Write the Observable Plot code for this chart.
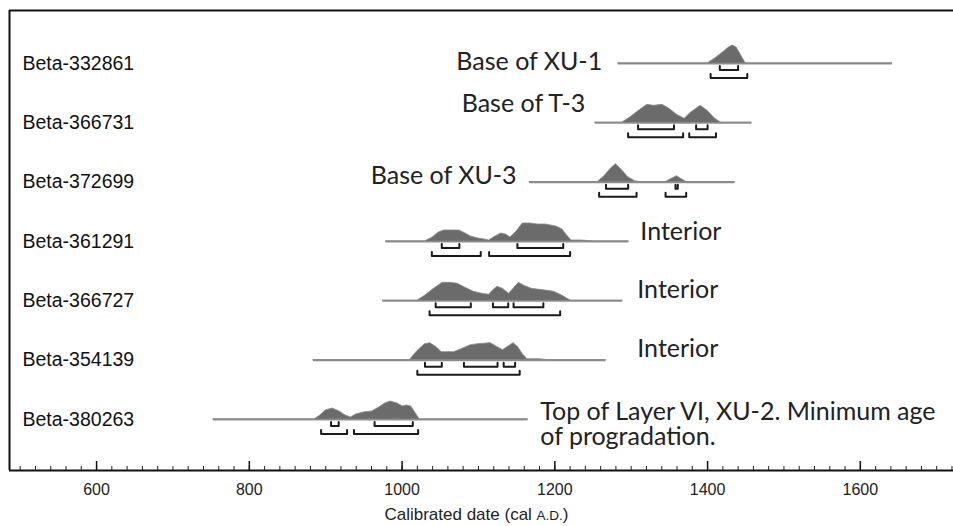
<!DOCTYPE html>
<html>
<head>
<meta charset="utf-8">
<script src="https://cdn.jsdelivr.net/npm/d3@7"></script>
<script src="https://cdn.jsdelivr.net/npm/@observablehq/plot@0.6"></script>
<style>
  html, body { margin: 0; padding: 0; background: #fff; }
  #chart { width: 953px; height: 500px; }
  .xtitle { width: 953px; height: 26px; text-align: center; font-family: "Liberation Sans", Arial, sans-serif; font-size: 17px; color: #222; line-height: 30px; }
  .xtitle small { font-size: 13.5px; }
</style>
</head>
<body>
<div id="chart"></div>
<div class="xtitle">Calibrated date (cal <small>A.D.</small>)</div>
<script>
// ---------------- DATA ----------------
const samples = ["Beta-332861", "Beta-366731", "Beta-372699", "Beta-361291", "Beta-366727", "Beta-354139", "Beta-380263"];
// extent of the calibration curve line for each sample (cal A.D.)
const curveStart = [1283, 1253, 1167, 979, 975, 884, 753];
const curveEnd   = [1642, 1458, 1436, 1297, 1289, 1267, 1165];

// probability density (relative units) : [year, density]
const dens332861 = [[1283,0],[1400,0],[1410,5],[1420,11],[1428,16],[1433,18],[1438,16],[1444,8],[1450,0],[1642,0]];
const dens366731 = [[1253,0],[1288,0],[1300,6],[1310,12],[1321,18],[1330,17],[1341,18],[1350,14],[1360,8],[1370,4],[1378,10],[1391,17],[1400,12],[1410,4],[1418,0],[1458,0]];
const dens372699 = [[1167,0],[1256,0],[1265,6],[1274,14],[1280,18],[1288,12],[1296,5],[1305,1],[1312,0],[1345,0],[1352,3],[1360,6],[1366,3],[1373,0],[1436,0]];
const dens361291 = [[979,0],[1030,0],[1040,4],[1048,9],[1055,11],[1065,11],[1075,11],[1083,8],[1090,5],[1100,3],[1108,2],[1114,1],[1120,4],[1130,8],[1136,7],[1142,4],[1150,10],[1158,18],[1168,18],[1178,17],[1188,17],[1195,16],[1202,15],[1210,12],[1216,6],[1222,1],[1235,1],[1250,0],[1297,0]];
const dens366727 = [[975,0],[1020,0],[1030,5],[1040,11],[1053,18],[1063,18],[1073,17],[1083,13],[1094,9],[1105,7],[1114,6],[1120,11],[1125,14],[1132,12],[1140,7],[1146,12],[1153,18],[1160,15],[1170,12],[1180,11],[1191,10],[1199,9],[1210,5],[1221,0],[1289,0]];
const dens354139 = [[884,0],[1010,0],[1020,9],[1030,16],[1037,17],[1045,13],[1052,8],[1060,8],[1068,8],[1078,11],[1090,15],[1100,16],[1116,17],[1125,13],[1132,10],[1140,14],[1146,17],[1152,13],[1158,6],[1164,1],[1180,1],[1190,0],[1267,0]];
const dens380263 = [[753,0],[885,0],[893,4],[900,9],[909,11],[918,8],[926,4],[933,2],[940,5],[950,7],[961,8],[970,12],[978,16],[985,18],[994,16],[1001,13],[1006,14],[1012,13],[1018,6],[1023,0],[1165,0]];
const densities = [dens332861, dens366731, dens372699, dens361291, dens366727, dens354139, dens380263];

// 1-sigma (68.2%) and 2-sigma (95.4%) ranges
const sigma1 = [
  [[1416,1440]],
  [[1309,1356],[1385,1400]],
  [[1267,1296],[1358,1361]],
  [[1052,1075],[1151,1211]],
  [[1044,1090],[1119,1139],[1146,1185]],
  [[1030,1052],[1081,1125],[1133,1148]],
  [[907,917],[964,1014]]
];
const sigma2 = [
  [[1404,1452]],
  [[1296,1368],[1376,1411]],
  [[1258,1307],[1345,1372]],
  [[1039,1103],[1114,1220]],
  [[1036,1207]],
  [[1020,1154]],
  [[894,928],[937,1021]]
];

const notes = ["Base of XU-1", "Base of T-3", "Base of XU-3", "Interior", "Interior", "Interior", "Top of Layer VI, XU-2. Minimum age\nof progradation."];
const xTicks = [600, 800, 1000, 1200, 1400, 1600];

// ---------------- LAYOUT ----------------
const width = 953, height = 500;
const mTop = 10, mBottom = 30, mLeft = 9, mRight = 0;
const xDomain = [486, 1722];
const yTopVal = -0.8933, yBotVal = 6.86;
const innerH = height - mTop - mBottom;
const pxPerRow = innerH / (yBotVal - yTopVal);
const densScale = 1 / pxPerRow; // 1 density unit = 1 px
const innerOff = 6.5 / pxPerRow, outerOff = 14.5 / pxPerRow, capLen = 4 / pxPerRow;

// build tables
const areaData = densities.flatMap((arr, i) => arr.map(([year, p]) => ({row: i, year, p})));
const baseData = samples.map((s, i) => ({row: i, x1: curveStart[i], x2: curveEnd[i]}));
const bracketData = [];
let bid = 0;
function addBrackets(list, off) {
  list.forEach((ranges, i) => ranges.forEach(([lo, hi]) => {
    const y = i + off;
    bid++;
    bracketData.push({id: bid, x: lo, y: y - capLen}, {id: bid, x: lo, y}, {id: bid, x: hi, y}, {id: bid, x: hi, y: y - capLen});
  }));
}
addBrackets(sigma1, innerOff);
addBrackets(sigma2, outerOff);

// annotation placement (x in cal A.D., vertical offset in px)
const noteData = [
  {row: 0, text: notes[0], x: 1262, off: -1, anchor: "end"},
  {row: 1, text: notes[1], x: 1240, off: -19, anchor: "end"},
  {row: 2, text: notes[2], x: 1150, off: -6, anchor: "end"},
  {row: 3, text: notes[3], x: 1312, off: -9, anchor: "start"},
  {row: 4, text: notes[4], x: 1308, off: -11, anchor: "start"},
  {row: 5, text: notes[5], x: 1308, off: -11, anchor: "start"},
  {row: 6, text: notes[6], x: 1181, off: 5.5, anchor: "start"}
];

const minorTicks = d3.range(500, 1721, 20);
const noteFont = "Lato, 'Open Sans', sans-serif";

const chart = Plot.plot({
  width, height,
  marginTop: mTop, marginBottom: mBottom, marginLeft: mLeft, marginRight: mRight,
  style: {fontFamily: "'Liberation Sans', Arial, sans-serif", fontSize: "16px", color: "#222", background: "#fff", overflow: "visible"},
  x: {domain: xDomain},
  y: {domain: [yBotVal, yTopVal], axis: null},
  marks: [
    // frame (top and left) and axis line
    Plot.ruleY([yTopVal], {stroke: "#111", strokeWidth: 2}),
    Plot.ruleX([xDomain[0]], {stroke: "#111", strokeWidth: 2}),
    Plot.ruleY([yBotVal], {stroke: "#111", strokeWidth: 2}),
    // minor & major ticks (pointing up)
    Plot.ruleX(minorTicks, {x: d => d, insetTop: innerH - 4, stroke: "#222", strokeWidth: 1}),
    Plot.ruleX(xTicks, {x: d => d, insetTop: innerH - 9, stroke: "#111", strokeWidth: 1.5}),
    Plot.axisX({ticks: xTicks, tickSize: 0, tickPadding: 13, tickFormat: d => String(d), label: null, fontSize: 16}),
    // calibration baselines
    Plot.ruleY(baseData, {y: "row", x1: "x1", x2: "x2", stroke: "#8f8f8f", strokeWidth: 2}),
    // probability distributions
    Plot.areaY(areaData, {x: "year", y1: "row", y2: d => d.row - d.p * densScale, z: "row", fill: "#6b6b6b", stroke: "#8a8a8a", strokeWidth: 0.8}),
    // sigma range brackets
    Plot.line(bracketData, {x: "x", y: "y", z: "id", stroke: "#1a1a1a", strokeWidth: 2, curve: "linear"}),
    // sample labels
    Plot.text(samples, {y: (d, i) => i, text: d => d, frameAnchor: "left", dx: 13, textAnchor: "start", fontSize: 19.5, fill: "#111"}),
    // annotations
    Plot.text(noteData.filter(d => d.anchor === "start"), {x: "x", y: d => d.row + d.off / pxPerRow, text: "text", textAnchor: "start", fontFamily: noteFont, fontSize: 25, lineHeight: 1.0, fill: "#222"}),
    Plot.text(noteData.filter(d => d.anchor === "end"), {x: "x", y: d => d.row + d.off / pxPerRow, text: "text", textAnchor: "end", fontFamily: noteFont, fontSize: 25, fill: "#222"})
  ]
});
document.getElementById("chart").appendChild(chart);
</script>
</body>
</html>
